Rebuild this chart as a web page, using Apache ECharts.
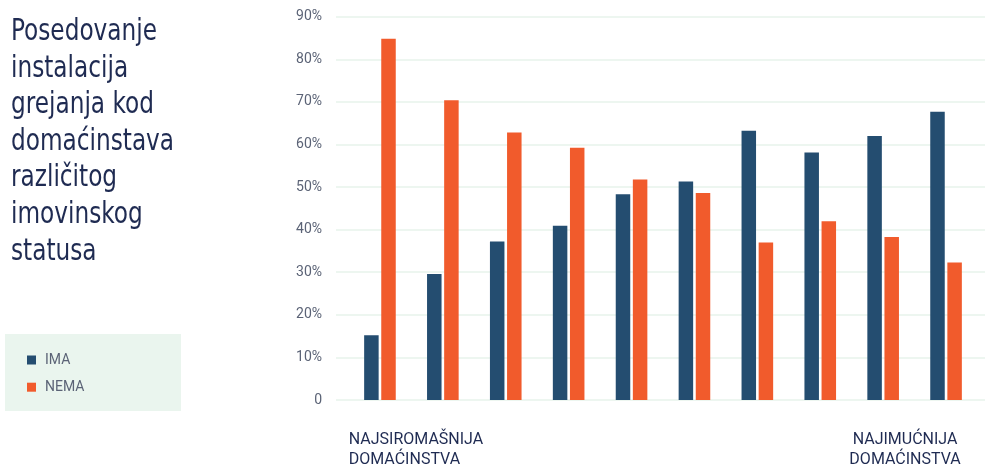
<!DOCTYPE html>
<html>
<head>
<meta charset="utf-8">
<script src="https://cdn.jsdelivr.net/npm/echarts@6/dist/echarts.min.js"></script>
<style>
  html, body { margin: 0; padding: 0; background: #fff; }
  #chart { width: 985px; height: 469px; }
</style>
</head>
<body>
<div id="chart"></div>
<script>
  // values (percent of households)
  const categories = [
    'NAJSIROMAŠNIJA\nDOMAĆINSTVA', '', '', '', '', '', '', '', '',
    'NAJIMUĆNIJA\nDOMAĆINSTVA'
  ];
  const ima  = [15.2, 29.6, 37.2, 40.9, 48.3, 51.3, 63.2, 58.1, 62.0, 67.7];
  const nema = [84.8, 70.4, 62.8, 59.2, 51.8, 48.6, 37.0, 42.0, 38.3, 32.3];
  const seriesNames = ['IMA', 'NEMA'];
  const titleText = 'Posedovanje\ninstalacija\ngrejanja kod\ndomaćinstava\nrazličitog\nimovinskog\nstatusa';

  const C = {
    blue: '#244d70', orange: '#f15b2c', navy: '#1f2b52',
    label: '#5b6376', grid: '#e7f3eb', legendBg: '#eaf5ee'
  };
  const fontUi = "Roboto, 'Noto Sans', sans-serif";
  const fontTitle = "'DejaVu Sans Condensed', 'Liberation Sans Narrow', sans-serif";

  const chart = echarts.init(document.getElementById('chart'));
  chart.setOption({
    animation: false,
    graphic: [
      {
        // title: condensed face squeezed a bit to match the narrow original
        type: 'text', left: 11, top: 14, scaleX: 0.86,
        style: {
          text: titleText, fill: C.navy, font: '30px ' + fontTitle, lineHeight: 36.6
        }
      },
      {
        type: 'rect', left: 5, top: 334, z: -1,
        shape: { width: 176, height: 77 },
        style: { fill: C.legendBg }
      }
    ],
    legend: {
      orient: 'vertical', left: 27, top: 353, padding: 0, itemGap: 13.2,
      icon: 'rect', itemWidth: 9, itemHeight: 9,
      textStyle: { color: C.label, fontSize: 14, fontFamily: fontUi, lineHeight: 14, padding: [0, 0, 0, 4] },
      data: seriesNames
    },
    grid: [
      { left: 348.5, right: 7.5, top: 16.7, bottom: 69, outerBoundsMode: 'none' },
      { left: 336, right: 0, top: 16.7, bottom: 69, outerBoundsMode: 'none' }
    ],
    xAxis: [
      {
        type: 'category', gridIndex: 0, data: categories,
        axisLine: { show: false }, axisTick: { show: false },
        axisLabel: {
          interval: 0, margin: 29.5, hideOverlap: false,
          formatter: (v, i) => {
            if (!v) return '';
            const k = i === 0 ? 'a' : 'b';
            return v.split('\n').map((s) => '{' + k + '|' + s + '}').join('\n');
          },
          rich: {
            a: { color: C.navy, fontSize: 16, fontFamily: fontUi, lineHeight: 20.5, align: 'left', padding: [0, 0, 0, 72] },
            b: { color: C.navy, fontSize: 16, fontFamily: fontUi, lineHeight: 20.5, align: 'center', padding: [0, 82, 0, 0] }
          }
        }
      },
      { type: 'value', gridIndex: 1, show: false, min: 0, max: 1 }
    ],
    yAxis: [
      { type: 'value', gridIndex: 0, min: 0, max: 90, interval: 10, show: false },
      {
        type: 'value', gridIndex: 1, min: 0, max: 90, interval: 10,
        axisLine: { show: false }, axisTick: { show: false },
        splitLine: { lineStyle: { color: C.grid, width: 1.5 } },
        axisLabel: {
          color: C.label, fontSize: 14, fontFamily: fontUi, margin: 14,
          formatter: (v) => (v === 0 ? '0' : v + '%')
        }
      }
    ],
    series: [
      {
        name: seriesNames[0], type: 'bar', xAxisIndex: 0, yAxisIndex: 0,
        barWidth: 14.5, barGap: '18%',
        itemStyle: { color: C.blue }, data: ima
      },
      {
        name: seriesNames[1], type: 'bar', xAxisIndex: 0, yAxisIndex: 0,
        barWidth: 14.5, barGap: '18%',
        itemStyle: { color: C.orange }, data: nema
      }
    ]
  });
</script>
</body>
</html>
